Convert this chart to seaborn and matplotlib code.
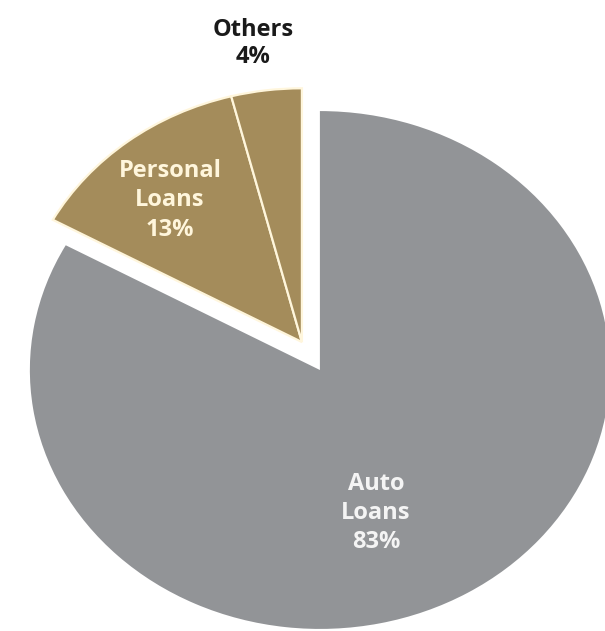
import matplotlib
matplotlib.use("Agg")
import matplotlib.pyplot as plt
import seaborn as sns

# data
categories = ["Auto Loans", "Personal Loans", "Others"]
shares = [83, 13, 4]
colors = ["#929497", "#A48C5B", "#A48C5B"]

sns.set_style("white")
plt.rcParams["font.family"] = ["Open Sans", "DejaVu Sans"]

fig = plt.figure(figsize=(6.05, 6.31), dpi=100)
ax = fig.add_axes([0, 0, 1, 1])

wedges, _ = ax.pie(shares, colors=colors, startangle=90, counterclock=False,
                   radius=1.0, wedgeprops=dict(linewidth=0))

# pull the two small slices out together (as one block)
for w in wedges[1:]:
    w.set_center((-0.062, 0.108))
    w.set_radius(0.98)
    w.set_edgecolor("#FFF6DC")
    w.set_linewidth(1.6)

ax.set_aspect("auto")
ax.set_xlim(-1.103, 0.983)
ax.set_ylim(-1.008, 1.429)
ax.axis("off")

lbl = [f"{c.replace(' ', chr(10))}\n{v}%" for c, v in zip(categories, shares)]
ax.text(0.193, -0.552, lbl[0], ha="center", va="center", fontsize=17,
        fontweight="bold", color="#F4F4F4", linespacing=1.3)
ax.text(-0.517, 0.656, lbl[1], ha="center", va="center", fontsize=17,
        fontweight="bold", color="#FFF6DC", linespacing=1.3)
ax.text(-0.231, 1.262, lbl[2], ha="center", va="center", fontsize=17,
        fontweight="bold", color="#1A1A1A", linespacing=1.15)

fig.savefig("out.png", dpi=100)
